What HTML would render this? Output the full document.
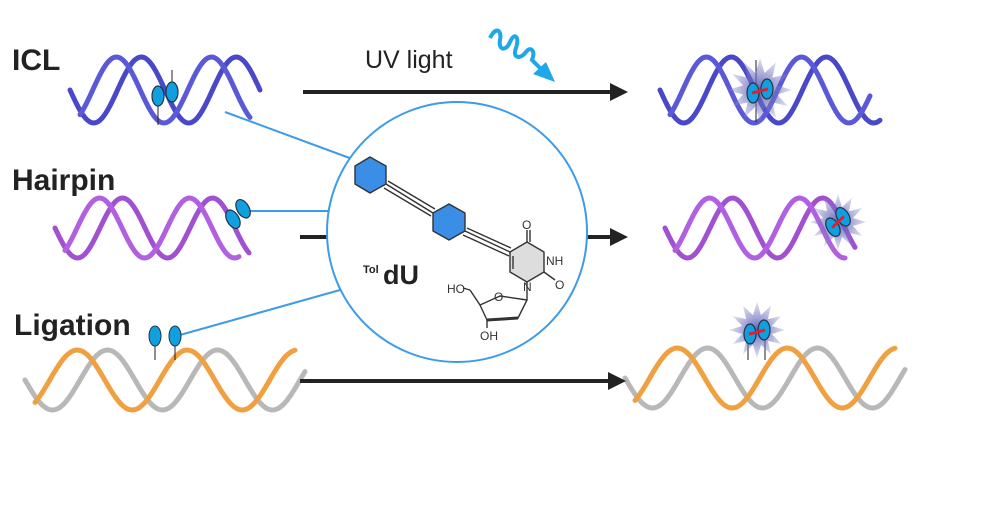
<!DOCTYPE html>
<html><head><meta charset="utf-8"><style>
html,body{margin:0;padding:0;background:#fff;width:1000px;height:522px;overflow:hidden}
svg{display:block}
text{font-family:"Liberation Sans",sans-serif}
</style></head><body>
<svg id="s" width="1000" height="522" viewBox="0 0 1000 522" xmlns="http://www.w3.org/2000/svg">
<defs>
<radialGradient id="glow"><stop offset="0" stop-color="#5050b0" stop-opacity="0.9"/><stop offset="1" stop-color="#9090d0" stop-opacity="0.3"/></radialGradient>
</defs>
<g id="helices"></g>
<g stroke="#222" stroke-width="4" fill="#222">
<line x1="303" y1="92" x2="612" y2="92"/><polygon points="628,92 610,83 610,101" stroke="none"/>
<line x1="300" y1="237" x2="612" y2="237"/><polygon points="628,237 610,228 610,246" stroke="none"/>
<line x1="300" y1="381" x2="610" y2="381"/><polygon points="626,381 608,372 608,390" stroke="none"/>
</g>
<g stroke="#3d9be9" stroke-width="2">
<line x1="225" y1="112" x2="355" y2="160"/>
<line x1="245" y1="211" x2="330" y2="211"/>
<line x1="180" y1="335" x2="340" y2="290"/>
</g>
<circle cx="457" cy="232" r="130" fill="#fff" stroke="#3d9be9" stroke-width="2"/>
<g stroke="#333" stroke-width="1.4" fill="none" stroke-linejoin="round">
<polygon points="355,166 370,157 386,166 386,184 370,193 355,184" fill="#3a8ee6"/>
<line x1="386" y1="184" x2="433" y2="213"/><line x1="388" y1="181" x2="435" y2="209"/><line x1="384" y1="188" x2="431" y2="216"/>
<polygon points="433,213 449,204 465,213 465,231 449,240 433,231" fill="#3a8ee6"/>
<line x1="465" y1="231" x2="510" y2="252"/><line x1="467" y1="228" x2="511" y2="248"/><line x1="463" y1="235" x2="509" y2="256"/>
<polygon points="527,242 544,252 544,272 527,282 510,272 510,252" fill="#ddd"/>
<line x1="513" y1="256" x2="513" y2="269"/>
<line x1="527" y1="242" x2="527" y2="230"/><line x1="530" y1="242" x2="530" y2="230"/>
<line x1="544" y1="272" x2="555" y2="280"/>
<line x1="527" y1="282" x2="527" y2="300"/>
<polygon points="480,305 500,296 527,300 518,318 487,320"/>
<line x1="487" y1="320" x2="518" y2="318" stroke-width="3"/>
<line x1="480" y1="305" x2="470" y2="290"/><line x1="470" y1="290" x2="463" y2="288"/>
<line x1="487" y1="320" x2="487" y2="328"/>
</g>
<g font-size="12" fill="#333">
<text x="522" y="229">O</text><text x="546" y="265">NH</text><text x="555" y="289">O</text>
<text x="523" y="291" fill="#333">N</text><text x="494" y="301">O</text><text x="447" y="293">HO</text><text x="480" y="340">OH</text>
</g>
<text x="363" y="273" font-size="11" font-weight="bold" fill="#222">Tol</text>
<text x="383" y="284" font-size="27" font-weight="bold" fill="#222">dU</text>
<g font-weight="bold" font-size="30" fill="#222">
<text x="12" y="70">ICL</text><text x="12" y="190">Hairpin</text><text x="14" y="335">Ligation</text>
</g>
<text x="365" y="68" font-size="25" fill="#222">UV light</text>
<path d="M490,38 C496,26 502,30 500,40 C498,50 506,52 510,42 C514,32 520,36 516,48 C512,58 520,60 526,52 C530,46 536,50 532,60 L540,68" stroke="#1ea8e8" stroke-width="4" fill="none"/>
<polygon points="555,82 533,74 546,62" fill="#1ea8e8"/>
<g id="fg"></g>
</svg>
<script>
var H=document.getElementById('helices'),F=document.getElementById('fg'),NS="http://www.w3.org/2000/svg";
function el(p,t,a){var e=document.createElementNS(NS,t);for(var k in a)e.setAttribute(k,a[k]);p.appendChild(e);return e;}
function strand(x0,x1,cy,A,P,ph,col,sl){var d="";for(var x=x0;x<=x1;x+=2){var y=cy+A*Math.sin(2*Math.PI*(x-x0)/P+ph)+sl*(x-x0);d+=(x==x0?"M":"L")+x+","+y.toFixed(1);}
el(H,"path",{d:d,stroke:col,"stroke-width":5,fill:"none","stroke-linecap":"round"});}
function helix(x0,x1,cy,A,P,c1,c2){strand(x0,x1,cy,A,P,0,c1,0);strand(x0+10,x1-10,cy,A,P,2.3,c2,0);}
helix(70,260,90,33,95,"#4848c8","#5a5ad8");
helix(660,880,90,33,95,"#4848c8","#5a5ad8");
helix(55,250,228,30,90,"#a050d0","#b060e0");
helix(665,855,228,30,90,"#a050d0","#b060e0");
helix(25,305,380,30,110,"#b8b8b8","#f0a040");
helix(625,905,378,30,110,"#b8b8b8","#f0a040");
function spark(cx,cy,r){var d="";for(var i=0;i<24;i++){var rr=i%2?r*0.55:r;var a=i*Math.PI/12;d+=(i?"L":"M")+(cx+rr*Math.cos(a)).toFixed(1)+","+(cy+rr*Math.sin(a)).toFixed(1);}el(F,"path",{d:d+"Z",fill:"url(#glow)"});}
function pair(cx,cy,link,rot){var g=el(F,"g",{transform:"rotate("+(rot||0)+" "+cx+" "+cy+")"});
el(g,"ellipse",{cx:cx-7,cy:cy+2,rx:6,ry:10,fill:"#10a0e0",stroke:"#234","stroke-width":1.2});
el(g,"ellipse",{cx:cx+7,cy:cy-2,rx:6,ry:10,fill:"#10a0e0",stroke:"#234","stroke-width":1.2});
if(link)el(g,"line",{x1:cx-8,y1:cy+2,x2:cx+8,y2:cy-2,stroke:"#e02030","stroke-width":3});}
el(F,"line",{x1:158,y1:100,x2:158,y2:125,stroke:"#222"});el(F,"line",{x1:172,y1:70,x2:172,y2:95,stroke:"#222"});
pair(165,94,false,0);
pair(238,214,false,-30);
el(F,"line",{x1:155,y1:345,x2:155,y2:360,stroke:"#222"});el(F,"line",{x1:175,y1:345,x2:175,y2:360,stroke:"#222"});
el(F,"ellipse",{cx:155,cy:336,rx:6,ry:10,fill:"#10a0e0",stroke:"#234"});el(F,"ellipse",{cx:175,cy:336,rx:6,ry:10,fill:"#10a0e0",stroke:"#234"});
el(F,"line",{x1:756,y1:60,x2:756,y2:122,stroke:"#222"});
spark(760,90,32);pair(760,91,true,0);
spark(838,222,28);pair(838,222,true,-30);
el(F,"line",{x1:748,y1:340,x2:748,y2:360,stroke:"#222"});el(F,"line",{x1:765,y1:340,x2:765,y2:360,stroke:"#222"});
spark(757,330,28);pair(757,332,true,0);
</script>
</body></html>
